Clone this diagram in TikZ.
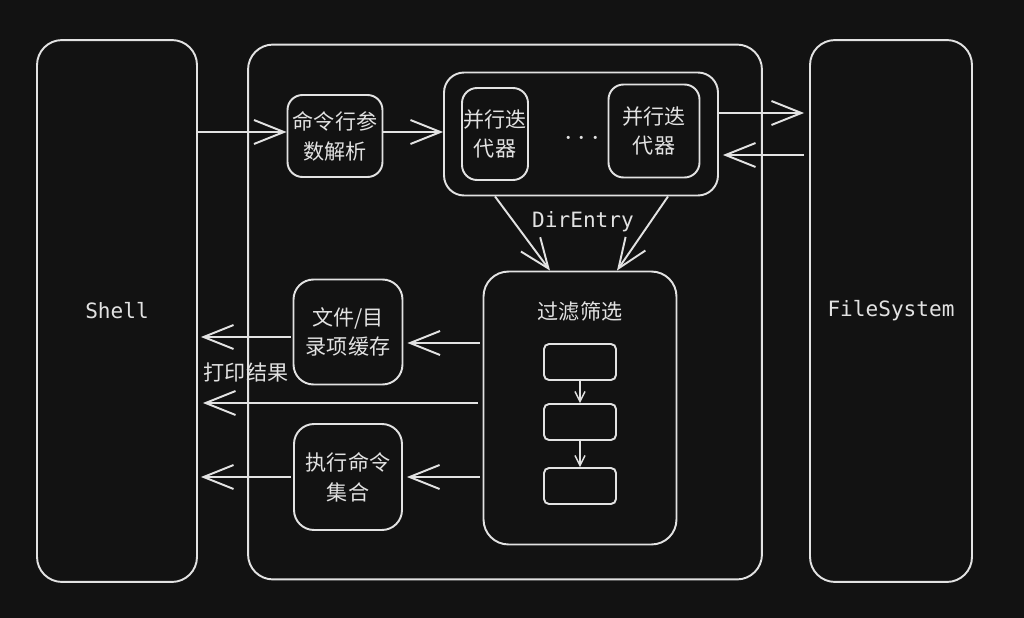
\documentclass[tikz,border=0pt]{standalone}
\usepackage{fontspec}
\setmonofont{DejaVu Sans Mono}
\newfontfamily\cjk{Noto Sans CJK SC}
\usetikzlibrary{arrows.meta}
\definecolor{bg}{RGB}{18,18,18}
\definecolor{ink}{RGB}{226,226,226}

\begin{document}
\begin{tikzpicture}[x=0.02cm,y=-0.02cm,line width=1.1pt,
  box/.style={draw=ink,rounded corners=0.5cm,text=ink,align=center,inner sep=0pt},
  smallbox/.style={draw=ink,rounded corners=0.1cm,minimum width=1.44cm,minimum height=0.72cm,inner sep=0pt},
  mono/.style={font=\ttfamily\fontsize{12}{14}\selectfont},
  flow/.style={draw=ink,-{Straight Barb[length=0.6cm,width=0.48cm]}},
  tinyflow/.style={draw=ink,line width=0.8pt,-{Straight Barb[length=0.2cm,width=0.2cm]}},
  font=\cjk\fontsize{12}{17}\selectfont]
  \fill[bg] (0,0) rectangle (1024,618);
  \node[box,mono,minimum width=3.2cm,minimum height=10.84cm] (shell) at (117,311) {Shell};
  \node[box,minimum width=10.28cm,minimum height=10.7cm] (main) at (505,312) {};
  \node[box,mono,minimum width=3.24cm,minimum height=10.84cm] (fs) at (891,311) {FileSystem};

  \node[box,rounded corners=0.3cm,minimum width=1.9cm,minimum height=1.64cm] (parse) at (335,136) {命令行参\\数解析};
  \node[box,rounded corners=0.4cm,minimum width=5.48cm,minimum height=2.46cm] (group) at (581,134) {};
  \node[box,rounded corners=0.3cm,minimum width=1.32cm,minimum height=1.84cm] (iterA) at (495,134) {并行迭\\代器};
  \node[box,rounded corners=0.3cm,minimum width=1.82cm,minimum height=1.86cm] (iterB) at (654,131) {并行迭\\代器};
  \node[text=ink,font=\fontsize{17}{17}\selectfont] (dots) at (582,139) {$\cdots$};
  \node[text=ink,mono] (entry) at (583,222) {DirEntry};

  \node[box,minimum width=3.86cm,minimum height=5.46cm] (filter) at (580,408) {};
  \node[text=ink] (ftitle) at (580,311) {过滤筛选};
  \node[smallbox] (s1) at (580,362) {};
  \node[smallbox] (s2) at (580,422) {};
  \node[smallbox] (s3) at (580,486) {};

  \node[box,rounded corners=0.4cm,minimum width=2.18cm,minimum height=2.1cm] (cache) at (348,332) {文件/目\\录项缓存};
  \node[box,rounded corners=0.4cm,minimum width=2.16cm,minimum height=2.12cm] (exec) at (348,477) {执行命令\\集合};
  \node[text=ink] (print) at (246,372) {打印结果};

  \draw[flow] (shell.east |- 0,132) -- (parse.west |- 0,132);
  \draw[flow] (parse.east |- 0,132) -- (group.west |- 0,132);
  \draw[flow] (group.east |- 0,113) -- ([xshift=-0.1cm]fs.west |- 0,113);
  \draw[flow] ([xshift=-0.1cm]fs.west |- 0,155) -- ([xshift=0.08cm]group.east |- 0,155);
  \draw[flow] (group.south -| iterA) -- (filter.north -| 550,0);
  \draw[flow] (group.south -| 668,0) -- (filter.north -| 617,0);
  \draw[tinyflow] (s1) -- (s2);
  \draw[tinyflow] (s2) -- (s3);
  \draw[flow] ([xshift=-0.06cm]filter.west |- 0,343) -- ([xshift=0.08cm]cache.east |- 0,343);
  \draw[flow] ([xshift=-0.04cm]cache.west |- 0,337) -- ([xshift=0.06cm]shell.east |- 0,337);
  \draw[flow] ([xshift=-0.1cm]filter.west |- 0,403) -- ([xshift=0.1cm]shell.east |- 0,403);
  \draw[flow] ([xshift=-0.06cm]filter.west |- 0,477) -- ([xshift=0.08cm]exec.east |- 0,477);
  \draw[flow] ([xshift=-0.04cm]exec.west |- 0,477) -- ([xshift=0.06cm]shell.east |- 0,477);
\end{tikzpicture}
\end{document}
